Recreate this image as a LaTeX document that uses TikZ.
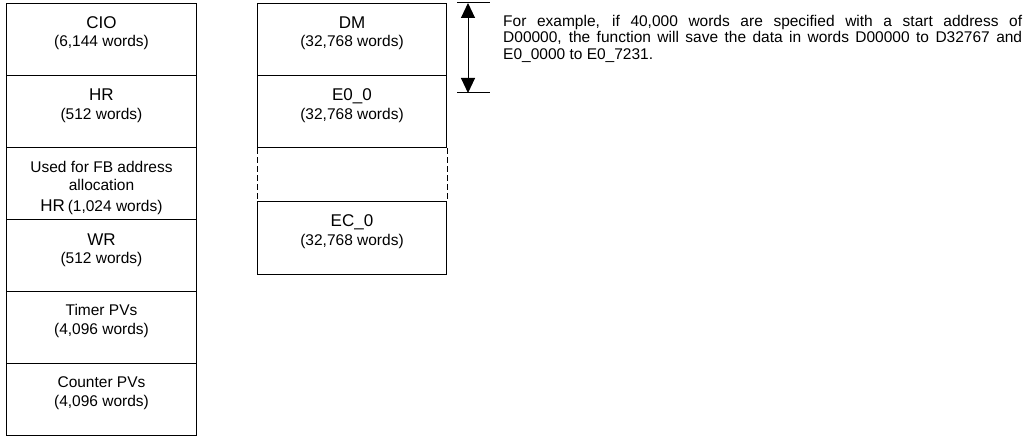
\documentclass[tikz,border=0pt]{standalone}
\usepackage{fontspec}
\setmainfont{Liberation Sans}
\usetikzlibrary{arrows.meta}
\newcommand{\ttlfont}{\fontsize{17}{19}\selectfont}
\newcommand{\subfont}{\fontsize{15.5}{18}\selectfont}
\begin{document}
\begin{tikzpicture}[x=1pt,y=-1pt,
  box/.style={draw,line width=1pt,minimum width=190pt,minimum height=72pt,inner sep=0pt,anchor=north west},
  ttl/.style={anchor=base,font=\ttlfont,inner sep=0pt},
  sub/.style={anchor=base,font=\subfont,inner sep=0pt},
  tick/.style={line width=1pt},
  dim/.style={line width=1pt,{Triangle[width=14pt,length=15pt]}-{Triangle[width=14pt,length=15pt]}}]
\useasboundingbox (0,0) rectangle (1029,436);
% left column
\node[box] (cio) at (6,3) {};
\node[box] (hr) at (6,75) {};
\node[box] (fb) at (6,147) {};
\node[box] (wr) at (6,219) {};
\node[box] (tim) at (6,291) {};
\node[box] (cnt) at (6,363) {};
\node[ttl] (ciot) at ([yshift=-26pt]cio.north) {CIO};
\node[sub] (cios) at ([yshift=-44pt]cio.north) {(6,144 words)};
\node[ttl] (hrt) at ([yshift=-26pt]hr.north) {HR};
\node[sub] (hrs) at ([yshift=-44pt]hr.north) {(512 words)};
\node[sub] (fb1) at ([yshift=-25pt]fb.north) {Used for FB address};
\node[sub] (fb2) at ([yshift=-43pt]fb.north) {allocation};
\node[anchor=base,inner sep=0pt] (fb3) at ([yshift=-64pt]fb.north) {{\ttlfont HR} {\subfont (1,024 words)}};
\node[ttl] (wrt) at ([yshift=-26pt]wr.north) {WR};
\node[sub] (wrs) at ([yshift=-44pt]wr.north) {(512 words)};
\node[sub] (timt) at ([yshift=-24pt]tim.north) {Timer PVs};
\node[sub] (tims) at ([yshift=-43pt]tim.north) {(4,096 words)};
\node[sub] (cntt) at ([yshift=-24pt]cnt.north) {Counter PVs};
\node[sub] (cnts) at ([yshift=-43pt]cnt.north) {(4,096 words)};
% middle column
\node[box,minimum width=189pt] (dm) at (257,3) {};
\node[box,minimum width=189pt] (e0) at (257,75) {};
\node[box,minimum width=189pt,minimum height=73pt] (ec) at (257,201) {};
\draw[line width=1pt,dash pattern=on 6pt off 3pt] (e0.south west) -- (ec.north west);
\draw[line width=1pt,dash pattern=on 6pt off 3pt] (e0.south east) -- (ec.north east);
\node[ttl] (dmt) at ([yshift=-26pt]dm.north) {DM};
\node[sub] (dms) at ([yshift=-44pt]dm.north) {(32,768 words)};
\node[ttl] (e0t) at ([yshift=-26pt]e0.north) {E0\_0};
\node[sub] (e0s) at ([yshift=-44pt]e0.north) {(32,768 words)};
\node[ttl] (ect) at ([yshift=-25pt]ec.north) {EC\_0};
\node[sub] (ecs) at ([yshift=-44pt]ec.north) {(32,768 words)};
% dimension arrow
\coordinate (t1l) at (457,3);
\coordinate (t1r) at (490,3);
\coordinate (t2l) at (457,93);
\coordinate (t2r) at (490,93);
\coordinate (at) at (468,3);
\coordinate (ab) at (468,93);
\draw[tick] (t1l) -- (t1r);
\draw[tick] (t2l) -- (t2r);
\draw[dim] (at) -- (ab);
% note
\node[anchor=base west,inner sep=0pt] (note) at (503,26.3) {\parbox[t]{519pt}{\tolerance=10000\hbadness=10000\fontsize{15.5}{16.6}\selectfont For example, if 40,000 words are specified with a start address of\linebreak D00000, the function will save the data in words D00000 to D32767 and\linebreak E0\_0000 to E0\_7231.}};
\end{tikzpicture}
\end{document}
